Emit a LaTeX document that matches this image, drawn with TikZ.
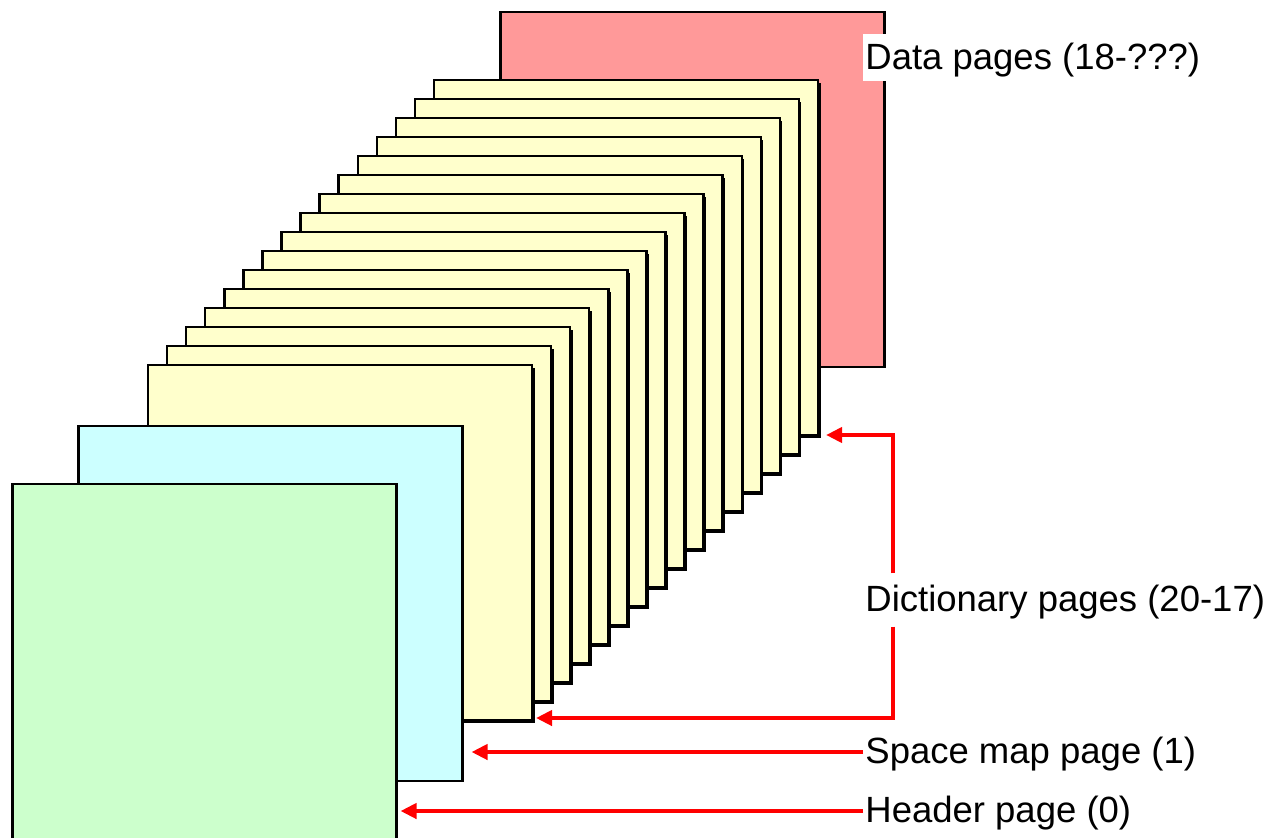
\documentclass[tikz,border=0pt]{standalone}
\usepackage{fontspec}
\setmainfont{Liberation Sans}
\usetikzlibrary{arrows.meta,shadows}

\definecolor{datared}{HTML}{FF9999}
\definecolor{dictyellow}{HTML}{FFFFCC}
\definecolor{spaceblue}{HTML}{CCFFFF}
\definecolor{headgreen}{HTML}{CCFFCC}
\definecolor{linkred}{HTML}{FF0000}

\tikzset{
  page/.style={draw=black, line width=1.25pt, rectangle, inner sep=0pt, outer sep=0pt,
               minimum width=192pt, minimum height=177.5pt},
  dictpage/.style={page, fill=dictyellow,
               drop shadow={shadow xshift=1.25pt, shadow yshift=-1.25pt, fill=black, opacity=1}},
  lbl/.style={anchor=west, fill=white, inner xsep=1pt, inner ysep=2.25pt,
              text height=15.5pt, text depth=3.65pt,
              font=\fontsize{18.25}{22}\selectfont},
  link/.style={draw=linkred, line width=2.25pt, -{Triangle[length=8pt,width=7.5pt]}}
}

\begin{document}
\begin{tikzpicture}[x=0.5pt, y=-0.5pt]
  \useasboundingbox (0,0) rectangle (1274,837);

  % data page at the back of the file
  \node[page, fill=datared] (data) at (692.5,189.5) {};

  % sixteen dictionary pages, drawn from the back to the front
  \foreach \i in {15,...,0} {
    \node[dictpage] (y\i) at ({340+19.07*\i},{542.5-19*\i}) {};
  }

  % space map page and header page in front
  \node[page, fill=spaceblue] (space) at (270.5,603.5) {};
  \node[page, fill=headgreen] (header) at (204.5,661.5) {};

  % labels
  \node[lbl] (ldata) at (863,57.5) {Data pages (18-???)};
  \node[lbl, inner ysep=3.5pt] (ldict) at (863,600) {Dictionary pages (20-17)};
  \node[lbl] (lspace) at (863,752) {Space map page (1)};
  \node[lbl] (lhead) at (863,811) {Header page (0)};

  % pointers from the labels to the pages
  \coordinate (bend) at (893,0);
  \draw[link] (ldict.north -| bend) |- ([xshift=4pt]y15.south east);
  \draw[link] (ldict.south -| bend) |- ([xshift=2pt,yshift=1pt]y0.south east);
  \draw[link] (lspace.west) -- ([xshift=4.5pt]space.east |- lspace.west);
  \draw[link] (lhead.west) -- ([xshift=2pt]header.east |- lhead.west);
\end{tikzpicture}
\end{document}
